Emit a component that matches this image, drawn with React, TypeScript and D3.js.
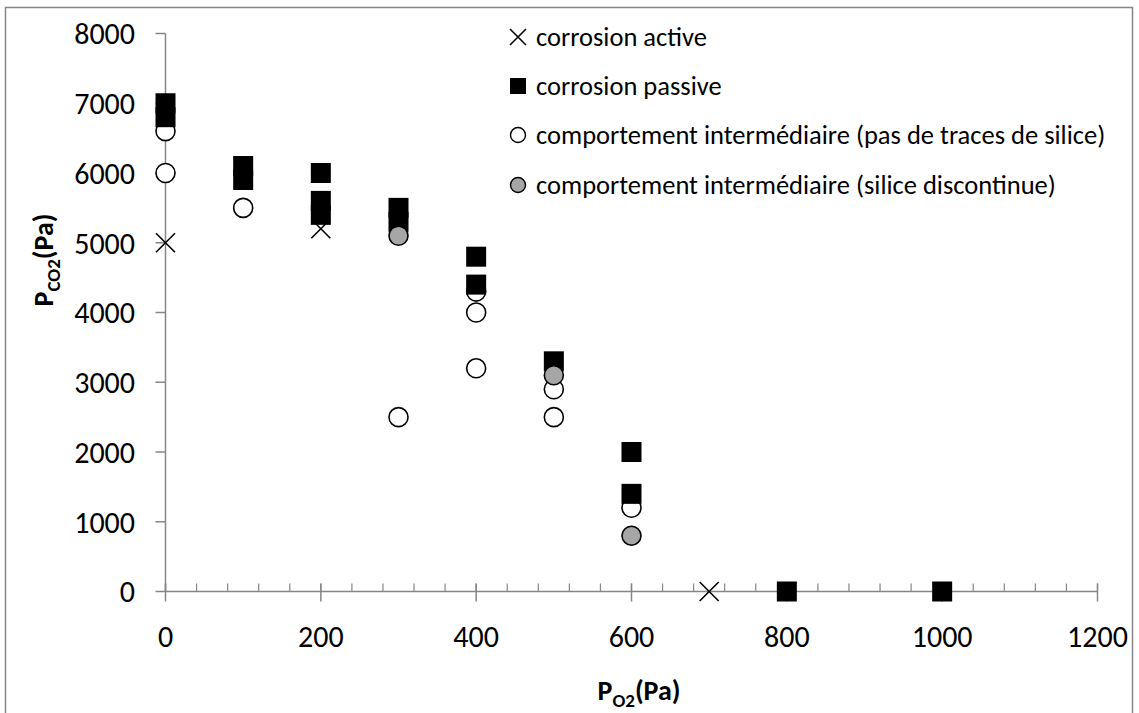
import * as d3 from 'd3'

// P_O2 / P_CO2 (Pa) for each behaviour
const activeX = [0, 200, 700]
const activeY = [5000, 5200, 0]
const intermX = [0, 0, 100, 300, 400, 400, 400, 500, 500, 600]
const intermY = [6600, 6000, 5500, 2500, 4300, 4000, 3200, 2900, 2500, 1200]
const passiveX = [0, 0, 100, 100, 200, 200, 200, 300, 300, 400, 400, 500, 600, 600, 800, 1000]
const passiveY = [7000, 6800, 6100, 5900, 6000, 5600, 5400, 5500, 5300, 4800, 4400, 3300, 2000, 1400, 0, 0]
const siliceX = [300, 500, 600]
const siliceY = [5100, 3100, 800]

const xTicks = [0, 200, 400, 600, 800, 1000, 1200]
const xMinor = d3.range(0, 1201, 40)
const yTicks = [0, 1000, 2000, 3000, 4000, 5000, 6000, 7000, 8000]
const legendLabels = [
  'corrosion active',
  'corrosion passive',
  'comportement intermédiaire (pas de traces de silice)',
  'comportement intermédiaire (silice discontinue)',
]

const W = 1139
const H = 713
const AXIS = '#868686'
const GREY = '#a6a6a6'
const FONT = "Carlito, Calibri, Lato, 'Liberation Sans', sans-serif"

const x = d3.scaleLinear().domain([0, 1200]).range([165.5, 1097.5])
const y = d3.scaleLinear().domain([0, 8000]).range([591.5, 33.5])

function Cross({ cx, cy, s = 9.5 }: { cx: number; cy: number; s?: number }) {
  return (
    <path
      d={`M${cx - s},${cy - s}L${cx + s},${cy + s}M${cx - s},${cy + s}L${cx + s},${cy - s}`}
      stroke="#000"
      strokeWidth={1.6}
      fill="none"
    />
  )
}

function Square({ cx, cy, s = 10 }: { cx: number; cy: number; s?: number }) {
  return <rect x={cx - s} y={cy - s} width={2 * s} height={2 * s} fill="#000" />
}

function Dot({ cx, cy, fill, r = 9.5 }: { cx: number; cy: number; fill: string; r?: number }) {
  return <circle cx={cx} cy={cy} r={r} fill={fill} stroke="#000" strokeWidth={1.6} />
}

export default function App() {
  const legY = [37, 86, 135, 185]
  const legX = 518

  return (
    <svg
      width={W}
      height={H}
      style={{ position: 'absolute', left: 0, top: 0, display: 'block', background: '#fff' }}
      fontFamily={FONT}
    >
      <rect x={5.5} y={7.5} width={1127} height={730} fill="#fff" stroke={AXIS} strokeWidth={1.5} />

      {/* y axis */}
      <line x1={x(0)} x2={x(0)} y1={y(8000)} y2={y(0)} stroke={AXIS} strokeWidth={1.5} />
      {yTicks.map((t) => (
        <g key={t}>
          <line x1={x(0) - 10} x2={x(0)} y1={y(t)} y2={y(t)} stroke={AXIS} strokeWidth={1.5} />
          <text x={135} y={y(t)} dy="0.36em" textAnchor="end" fontSize={30} fill="#000">
            {t}
          </text>
        </g>
      ))}

      {/* x axis */}
      <line x1={x(0)} x2={x(1200)} y1={y(0)} y2={y(0)} stroke={AXIS} strokeWidth={1.5} />
      {xMinor.map((t) => (
        <line key={`m${t}`} x1={x(t)} x2={x(t)} y1={y(0) - 8} y2={y(0)} stroke={AXIS} strokeWidth={1.2} />
      ))}
      {xTicks.map((t) => (
        <g key={t}>
          <line x1={x(t)} x2={x(t)} y1={y(0) - 8} y2={y(0) + 10} stroke={AXIS} strokeWidth={1.5} />
          <text x={x(t)} y={636} dy="0.36em" textAnchor="middle" fontSize={30} fill="#000">
            {t}
          </text>
        </g>
      ))}

      {/* series */}
      {activeX.map((v, i) => (
        <Cross key={`a${i}`} cx={x(v)} cy={y(activeY[i])} />
      ))}
      {intermX.map((v, i) => (
        <Dot key={`i${i}`} cx={x(v)} cy={y(intermY[i])} fill="#fff" />
      ))}
      {passiveX.map((v, i) => (
        <Square key={`p${i}`} cx={x(v)} cy={y(passiveY[i])} />
      ))}
      {siliceX.map((v, i) => (
        <Dot key={`s${i}`} cx={x(v)} cy={y(siliceY[i])} fill={GREY} />
      ))}

      {/* legend */}
      <Cross cx={legX} cy={legY[0]} s={8} />
      <rect x={legX - 8} y={legY[1] - 8} width={16} height={16} fill="#000" />
      <circle cx={legX} cy={legY[2]} r={7.5} fill="#fff" stroke="#000" strokeWidth={1.4} />
      <circle cx={legX} cy={legY[3]} r={7.5} fill={GREY} stroke="#000" strokeWidth={1.4} />
      {legendLabels.map((l, i) => (
        <text key={l} x={legX + 18} y={legY[i]} dy="0.35em" fontSize={26.5} fill="#000">
          {l}
        </text>
      ))}

      {/* axis titles */}
      <text
        transform={`translate(53,260) rotate(-90)`}
        textAnchor="middle"
        fontSize={28}
        fontWeight="bold"
        fill="#000"
      >
        P<tspan fontSize={19} dy={7}>CO2</tspan>
        <tspan dy={-7}>(Pa)</tspan>
      </text>
      <text x={639} y={700} textAnchor="middle" fontSize={28} fontWeight="bold" fill="#000">
        P<tspan fontSize={19} dy={7}>O2</tspan>
        <tspan dy={-7}>(Pa)</tspan>
      </text>
    </svg>
  )
}
